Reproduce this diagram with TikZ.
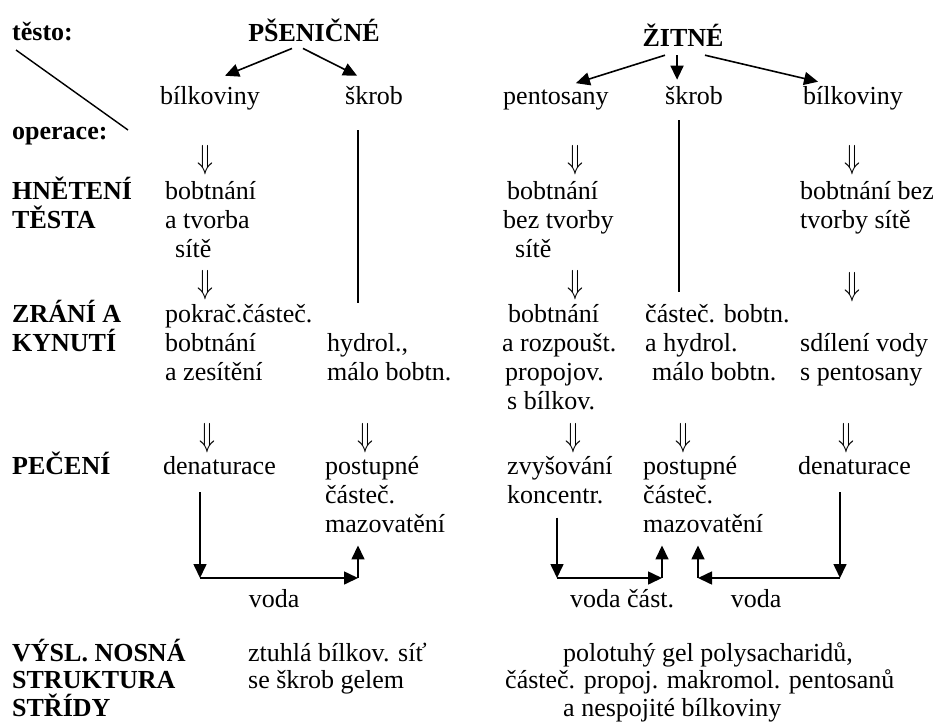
\RequirePackage{fix-cm}
\documentclass[tikz,border=0pt]{standalone}
\usepackage{fontspec}
\setmainfont{Liberation Serif}
\usetikzlibrary{arrows.meta}
\newcommand{\dnar}{\scalebox{0.9}[1.15]{$\Downarrow$}}
\tikzset{
  txt/.style={anchor=base west, inner sep=0pt, align=left, font=\fontsize{26}{29}\selectfont},
  btm/.style={txt, font=\fontsize{26}{27.5}\selectfont},
  hd/.style={txt, font=\fontsize{26}{29}\selectfont\bfseries},
  dn/.style={inner sep=0pt, font=\fontsize{29}{29}\selectfont},
  arr/.style={-{Triangle[length=14pt,width=13pt]}, line width=1.6pt},
  ln/.style={line width=1.4pt},
}

\begin{document}
\begin{tikzpicture}[x=1pt,y=-1pt]
  \useasboundingbox (0,0) rectangle (934,726);
  % --- left labels (multi-line nodes sit on their last baseline) ---
  \node[hd] (testo) at (12,40) {těsto:};
  \node[hd] (oper) at (12,139) {operace:};
  \coordinate (dgA) at (16,50);
  \coordinate (dgB) at (128,130);
  \draw[ln] (dgA) -- (dgB);
  \node[hd] (hnet) at (12,228) {HNĚTENÍ\\TĚSTA};
  \node[hd] (zran) at (12,351) {ZRÁNÍ A\\KYNUTÍ};
  \node[hd] (pec) at (12,474) {PEČENÍ};
  \node[hd, font=\fontsize{26}{27.5}\selectfont\bfseries] (vysl) at (12,716) {VÝSL. NOSNÁ\\STRUKTURA\\STŘÍDY};
  % --- wheat ---
  \node[hd, anchor=base] (psen) at (314,41) {PŠENIČNÉ};
  \node[txt] (wbil) at (160,104) {bílkoviny};
  \node[txt] (wsk) at (345,104) {škrob};
  \draw[arr] ([xshift=-22pt,yshift=-7pt]psen.south) -- ([xshift=15pt,yshift=10pt]wbil.north);
  \draw[arr] ([xshift=-11pt,yshift=-7pt]psen.south) -- ([xshift=-17pt,yshift=10pt]wsk.north);
  \node[dn] (wd1) at (205,160) {\dnar};
  \node[txt] (whn) at (165,257) {bobtnání\\a tvorba\\\hspace*{10pt}sítě};
  \node[dn] (wd2) at (205,285) {\dnar};
  \node[txt] (wzr) at (165,380) {pokrač.částeč.\\bobtnání\\a zesítění};
  \node[txt] (whyd) at (327,380) {hydrol.,\\málo bobtn.};
  \coordinate (wsE) at (358,303);
  \draw[ln, shorten <=26pt] (wsE |- wsk.south) -- (wsE);
  \node[dn] (wd3) at (207,438) {\dnar};
  \node[dn] (wd4) at (365,438) {\dnar};
  \node[txt] (wden) at (163,474) {denaturace};
  \node[txt] (wmaz) at (325,532) {postupné\\částeč.\\mazovatění};
  \coordinate (wA) at (200,578);
  \coordinate (wB) at (358,578);
  \draw[arr, shorten <=18pt] (wA |- wden.south) -- (wA);
  \draw[arr] (wA) -- (wB) node[txt, anchor=base, pos=0.47, yshift=-29pt] (wvod) {voda};
  \draw[arr, shorten >=13pt] (wB) -- (wB |- wmaz.south);
  \node[btm] (wvys) at (248,688.5) {ztuhlá bílkov. síť\\se škrob gelem};
  % --- rye ---
  \node[hd, anchor=base] (zit) at (683,46) {ŽITNÉ};
  \node[txt] (rpen) at (503,104) {pentosany};
  \node[txt] (rsk) at (665,104) {škrob};
  \node[txt] (rbil) at (803,104) {bílkoviny};
  \draw[arr] ([xshift=-18pt,yshift=-9pt]zit.south) -- ([xshift=20pt,yshift=6pt]rpen.north);
  \draw[arr] ([xshift=-6pt,yshift=-9pt]zit.south) -- ([xshift=-17pt,yshift=6pt]rsk.north);
  \draw[arr] ([xshift=22pt,yshift=-9pt]zit.south) -- ([xshift=-35pt,yshift=4pt]rbil.north);
  \node[dn] (rd1) at (575,160) {\dnar};
  \node[dn] (rd2) at (852,160) {\dnar};
  \node[txt] (rhn1) at (503,257) {\hspace*{4pt}bobtnání\\bez tvorby\\\hspace*{12pt}sítě};
  \node[txt] (rhn2) at (800,228) {bobtnání bez\\tvorby sítě};
  \coordinate (rsE) at (679,292);
  \draw[ln, shorten <=16pt] (rsE |- rsk.south) -- (rsE);
  \node[dn] (rd3) at (575,285) {\dnar};
  \node[dn] (rd4) at (852,287) {\dnar};
  \node[txt] (rzr1) at (502,409) {\hspace*{6pt}bobtnání\\a rozpoušt.\\\hspace*{3pt}propojov.\\\hspace*{5pt}s bílkov.};
  \node[txt] (rzr2) at (645,380) {částeč. bobtn.\\a hydrol.\\\hspace*{7pt}málo bobtn.};
  \node[txt] (rzr3) at (800,380) {sdílení vody\\s pentosany};
  \node[dn] (rd5) at (573,438) {\dnar};
  \node[dn] (rd6) at (683,438) {\dnar};
  \node[dn] (rd7) at (846,438) {\dnar};
  \node[txt] (rzv) at (507,503) {zvyšování\\koncentr.};
  \node[txt] (rmaz) at (643,532) {postupné\\částeč.\\mazovatění};
  \node[txt] (rden) at (798,474) {denaturace};
  \coordinate (rA) at (557,578);
  \coordinate (rB) at (662,578);
  \coordinate (rC) at (840,578);
  \coordinate (rD) at (698,578);
  \draw[arr, shorten <=14pt] (rA |- rzv.south) -- (rA);
  \draw[arr] (rA) -- (rB) node[txt, anchor=base, pos=0.62, yshift=-29pt] (rvod1) {voda část.};
  \draw[arr, shorten >=13pt] (rB) -- (rB |- rmaz.south);
  \draw[arr, shorten <=18pt] (rC |- rden.south) -- (rC);
  \draw[arr] (rC) -- (rD) node[txt, anchor=base, pos=0.59, yshift=-29pt] (rvod2) {voda};
  \draw[arr, shorten >=13pt] (rD) -- (rD |- rmaz.south);
  \node[btm] (rvys) at (505,716) {\hspace*{58pt}polotuhý gel polysacharidů,\\částeč. propoj. makromol. pentosanů\\\hspace*{58pt}a nespojité bílkoviny};
\end{tikzpicture}
\end{document}
